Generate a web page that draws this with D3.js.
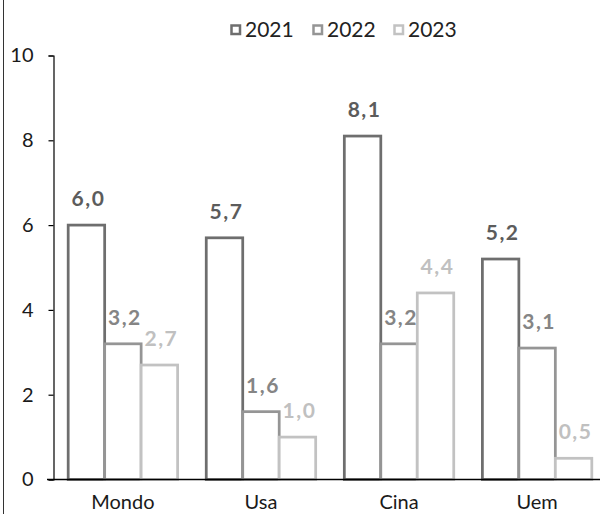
<!DOCTYPE html>
<html>
<head>
<meta charset="utf-8">
<script src="https://cdn.jsdelivr.net/npm/d3@7"></script>
<style>
  html, body { margin: 0; padding: 0; background: #fff; }
  svg { display: block; font-family: Lato, "Noto Sans", sans-serif; }
</style>
</head>
<body>
<svg id="chart" width="600" height="514"></svg>
<script>
// Growth by area, three years
const categories = ["Mondo", "Usa", "Cina", "Uem"];
const years = ["2021", "2022", "2023"];
const values2021 = [6.0, 5.7, 8.1, 5.2];
const values2022 = [3.2, 1.6, 3.2, 3.1];
const values2023 = [2.7, 1.0, 4.4, 0.5];
const yTicks = [0, 2, 4, 6, 8, 10];

const seriesValues = [values2021, values2022, values2023];
const strokeColors = ["#6e6e6e", "#959595", "#c2c2c2"];
const labelColors = ["#5c5c5c", "#858585", "#c0c0c0"];

const svg = d3.select("#chart");

// frame edge on the left
svg.append("line")
  .attr("x1", 3.5).attr("x2", 3.5)
  .attr("y1", 0).attr("y2", 514)
  .attr("stroke", "#333").attr("stroke-width", 1);

const y = d3.scaleLinear().domain([0, 10]).range([479.5, 55.5]);
const x = d3.scaleBand().domain(categories).range([53, 607])
  .paddingInner(0.2075).paddingOuter(0.11);
const xs = d3.scaleBand().domain(years).range([0, x.bandwidth()]);

// y axis
const yAxis = d3.axisLeft(y).tickValues(yTicks).tickSize(5).tickPadding(15)
  .tickFormat(d3.format("d"));
const gy = svg.append("g").attr("transform", "translate(53.5,0)").call(yAxis);
gy.select(".domain").attr("stroke", "#000").attr("stroke-width", 1.2);
gy.selectAll(".tick line").attr("stroke", "#000").attr("stroke-width", 1.2);
gy.selectAll(".tick text")
  .attr("font-family", "Lato, 'Noto Sans', sans-serif")
  .attr("font-size", 20).attr("fill", "#1a1a1a");

// bars
const rows = [];
categories.forEach((c, i) => {
  years.forEach((yr, j) => rows.push({ cat: c, year: yr, s: j, v: seriesValues[j][i] }));
});

const bars = svg.append("g");
bars.selectAll("rect").data(rows).join("rect")
  .attr("x", d => x(d.cat) + xs(d.year))
  .attr("y", d => y(d.v))
  .attr("width", xs.bandwidth())
  .attr("height", d => y(0) - y(d.v))
  .attr("fill", "#fff")
  .attr("stroke", d => strokeColors[d.s])
  .attr("stroke-width", 2.75);

// x axis
const xAxis = d3.axisBottom(x).tickSize(0).tickPadding(15);
const gx = svg.append("g").attr("transform", `translate(0,${y(0)})`).call(xAxis);
gx.select(".domain").remove();
gx.append("line").attr("x1", 47).attr("x2", 600).attr("y1", 0).attr("y2", 0)
  .attr("stroke", "#000").attr("stroke-width", 1.3);
gx.selectAll(".tick text")
  .attr("font-family", "Lato, 'Noto Sans', sans-serif")
  .attr("font-size", 20).attr("fill", "#1a1a1a");

// value labels
const fmt = v => d3.format(".1f")(v).replace(".", ",");
svg.append("g").selectAll("text").data(rows).join("text")
  .attr("x", d => x(d.cat) + xs(d.year) + xs.bandwidth() / 2 + 2)
  .attr("y", d => y(d.v) - 19)
  .attr("text-anchor", "middle")
  .attr("font-size", 21).attr("font-weight", 700)
  .attr("letter-spacing", 1.5)
  .attr("fill", d => labelColors[d.s])
  .text(d => fmt(d.v));

// legend
const legendX = [231, 313, 394];
const lg = svg.append("g");
years.forEach((yr, j) => {
  const g = lg.append("g").attr("transform", `translate(${legendX[j]},0)`);
  g.append("rect").attr("x", 0.5).attr("y", 25.5).attr("width", 8.5).attr("height", 8.5)
    .attr("fill", "#fff").attr("stroke", strokeColors[j]).attr("stroke-width", 2.5);
  g.append("text").attr("x", 14).attr("y", 36.5)
    .attr("font-size", 21).attr("fill", "#222").text(yr);
});
</script>
</body>
</html>
